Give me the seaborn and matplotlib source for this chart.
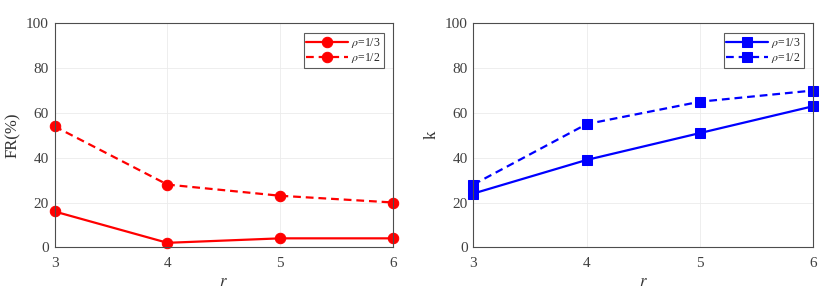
import matplotlib
matplotlib.use("Agg")
import matplotlib.pyplot as plt
import seaborn as sns
import pandas as pd

r_vals = [3, 4, 5, 6]
fr_rho13 = [16, 2, 4, 4]
fr_rho12 = [54, 28, 23, 20]
k_rho13 = [24, 39, 51, 63]
k_rho12 = [28, 55, 65, 70]
labels = [r"$\rho$=1/3", r"$\rho$=1/2"]

sns.set_theme(style="white")
plt.rcParams['font.family'] = ['Liberation Serif', 'DejaVu Serif']
plt.rcParams['mathtext.fontset'] = 'stix'

fig = plt.figure(figsize=(8.31, 2.92), dpi=100)
W, H = 831, 292
ax1 = fig.add_axes([54.5 / W, 1 - 247.3 / H, (393.3 - 54.5) / W, (247.3 - 23.3) / H])
ax2 = fig.add_axes([473.3 / W, 1 - 247.3 / H, (813.3 - 473.3) / W, (247.3 - 23.3) / H])

def draw(ax, s1, s2, color, marker, ylabel):
    df = pd.DataFrame({"r": r_vals * 2, "v": s1 + s2,
                       "s": [labels[0]] * 4 + [labels[1]] * 4})
    sns.lineplot(data=df, x="r", y="v", hue="s", style="s",
                 palette=[color, color], dashes=[(None, None), (3.5, 2.2)],
                 markers=[marker, marker], markersize=7.5, linewidth=1.6,
                 markeredgecolor=color, ax=ax, legend=True, clip_on=False)
    ax.set_xlim(3, 6)
    ax.set_ylim(0, 100)
    ax.set_xticks(r_vals)
    ax.set_yticks([0, 20, 40, 60, 80, 100])
    ax.grid(True, color="#ebebeb", linewidth=0.6)
    for sp in ax.spines.values():
        sp.set_color("#4d4d4d")
        sp.set_linewidth(0.8)
    ax.tick_params(direction="in", length=3, color="#4d4d4d", labelsize=11,
                   labelcolor="#404040")
    ax.tick_params(axis="x", pad=7)
    ax.tick_params(axis="y", pad=4)
    ax.set_xlabel(r"$r$", fontsize=12, color="#333333", labelpad=3)
    ax.set_ylabel(ylabel, fontsize=12, color="#333333", labelpad=4)
    leg = ax.legend(loc="upper right", fontsize=8.5, frameon=True, fancybox=False,
                    handlelength=3.5, borderpad=0.25, labelspacing=0.1,
                    handletextpad=0.3, borderaxespad=0.8)
    leg.get_frame().set_edgecolor("#333333")
    leg.get_frame().set_linewidth(0.8)

draw(ax1, fr_rho13, fr_rho12, "#ff0000", "o", "FR(%)")
draw(ax2, k_rho13, k_rho12, "#0000ff", "s", "k")

fig.savefig("out.png", dpi=100)
